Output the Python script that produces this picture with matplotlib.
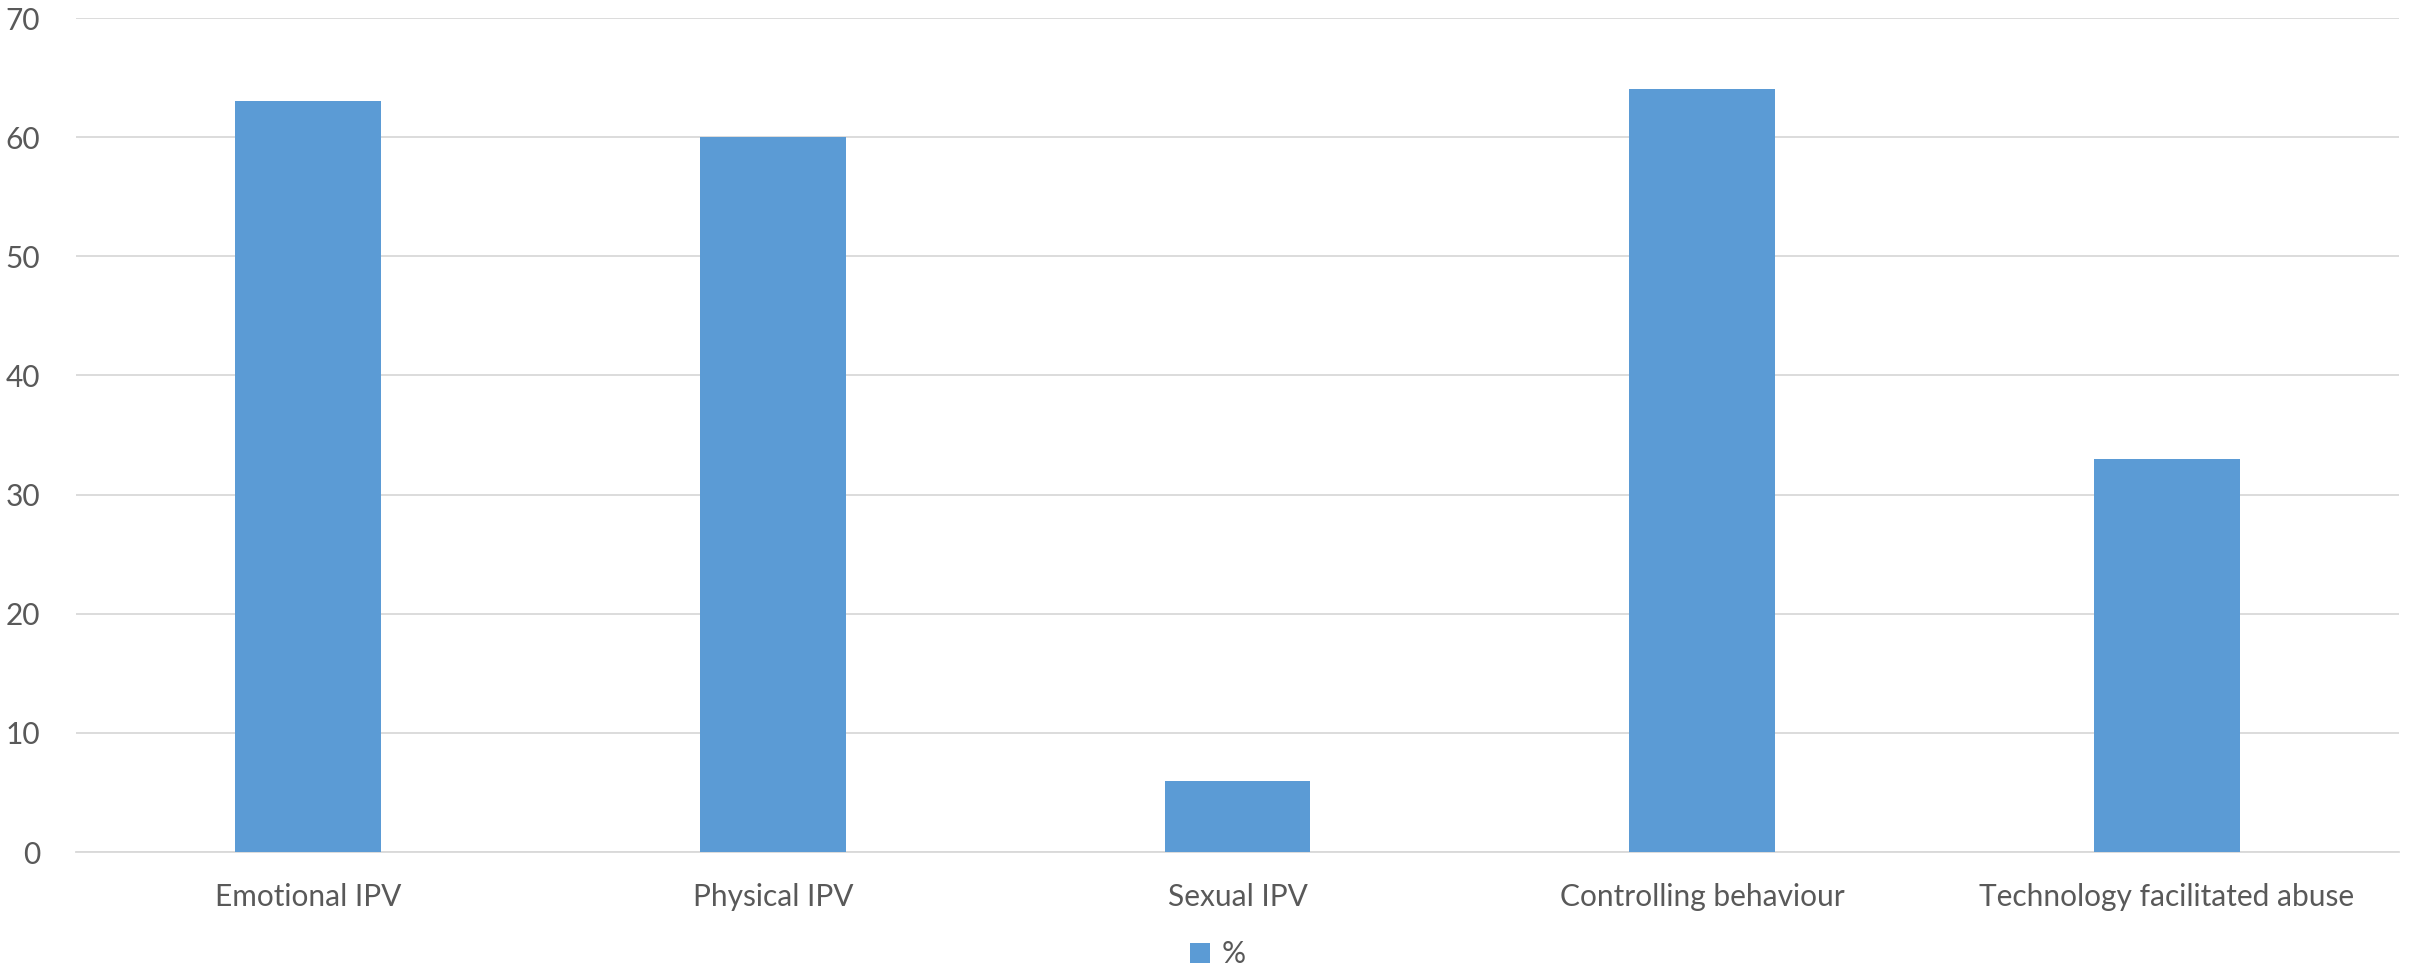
import matplotlib
matplotlib.use("Agg")
import matplotlib.pyplot as plt
import numpy as np

categories = ["Emotional IPV", "Physical IPV", "Sexual IPV",
              "Controlling behaviour", "Technology facilitated abuse"]
percent = [63, 60, 6, 64, 33]

BAR = "#5B9BD5"
TEXT = "#595959"
GRID = "#D9D9D9"

plt.rcParams["font.family"] = ["Lato", "DejaVu Sans"]

fig = plt.figure(figsize=(24.12, 9.68), dpi=100)
ax = fig.add_axes([76 / 2412, 1 - 852 / 968, (2399 - 76) / 2412, (852 - 18) / 968])

x = np.arange(len(categories))
ax.bar(x, percent, width=0.314, color=BAR, label="%", zorder=3)

ax.set_xlim(-0.5, len(categories) - 0.5)
ax.set_ylim(0, 70)
ax.set_yticks(range(0, 71, 10))
ax.set_xticks(x)
ax.set_xticklabels(categories)
ax.tick_params(axis="both", length=0, labelsize=21.5, labelcolor=TEXT)
ax.tick_params(axis="x", pad=22)
ax.tick_params(axis="y", pad=26)
ax.grid(axis="y", color=GRID, linewidth=1.3, zorder=0)
for side in ["top", "right", "left"]:
    ax.spines[side].set_visible(False)
ax.spines["bottom"].set_color(GRID)
ax.spines["bottom"].set_linewidth(1.3)

fig.legend(loc="lower center", bbox_to_anchor=(0.505, -0.028), frameon=False,
           fontsize=21.5, labelcolor=TEXT, handlelength=0.65, handleheight=0.65,
           handletextpad=0.4)

fig.savefig("out.png", dpi=100)
